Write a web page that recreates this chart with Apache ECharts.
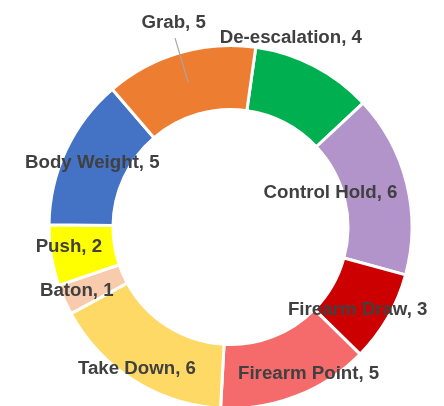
<!DOCTYPE html>
<html>
<head>
<meta charset="utf-8">
<script src="https://cdn.jsdelivr.net/npm/echarts@6/dist/echarts.min.js"></script>
<style>
    html, body {margin: 0; padding: 0; background: #fff;}
    #chart {width: 444px; height: 406px;}
</style>
</head>
<body>
<div id="chart"></div>
<script>
    // data, in clockwise order starting just right of 12 o'clock
    var categories = ['De-escalation', 'Control Hold', 'Firearm Draw', 'Firearm Point', 'Take Down', 'Baton', 'Push', 'Body Weight', 'Grab'];
    var counts = [4, 6, 3, 5, 6, 1, 2, 5, 5];
    var colors = ['#00B050', '#B294CB', '#CC0000', '#F56B6B', '#FFD966', '#F8CBAD', '#FFFF00', '#4472C4', '#ED7D31'];

    // label nudges away from the ring middle (dx, dy)
    var labelShift = [[-10, -54], [-48, 2], [-5, 7], [23, 5], [-12, 13], [-14, 3], [-11, -4], [0, 0], [-14, -58]];

    var cx = 230.5, cy = 227, rIn = 117.5, rOut = 181.5, firstAngle = 8; // clock degrees

    var chart = echarts.init(document.getElementById('chart'));

    // leader line for the Grab label, from middle of its slice up to the label
    var total = counts.reduce(function (a, b) { return a + b; }, 0);
    var grabIdx = categories.indexOf('Grab');
    var before = counts.slice(0, grabIdx).reduce(function (a, b) { return a + b; }, 0);
    var midDeg = firstAngle + (before + counts[grabIdx] / 2) / total * 360;
    var midR = (rIn + rOut) / 2 + 1.5;
    var lx1 = cx + midR * Math.sin(midDeg * Math.PI / 180);
    var ly1 = cy - midR * Math.cos(midDeg * Math.PI / 180);

    var option = {
        animation: false,
        color: colors,
        textStyle: {fontFamily: 'Liberation Sans'},
        series: [{
            type: 'pie',
            center: [cx, cy],
            radius: [rIn, rOut],
            startAngle: 90 - firstAngle,
            clockwise: true,
            avoidLabelOverlap: false,
            itemStyle: {borderColor: '#fff', borderWidth: 3},
            label: {
                show: true, position: 'inside',
                formatter: '{b}, {c}',
                color: '#404040', fontSize: 18.7, fontWeight: 'bold',
                fontFamily: 'Liberation Sans'
            },
            labelLine: {show: false},
            labelLayout: function (p) {
                var s = labelShift[p.dataIndex];
                return {dx: s[0], dy: s[1]};
            },
            emphasis: {disabled: true},
            data: categories.map(function (c, i) { return {name: c, value: counts[i]}; })
        }],
        graphic: [{
            type: 'line', z: 100,
            shape: {x1: lx1, y1: ly1, x2: lx1 - 13, y2: ly1 - 44},
            style: {stroke: '#A6A6A6', lineWidth: 1.2}
        }]
    };
    chart.setOption(option);
</script>
</body>
</html>
